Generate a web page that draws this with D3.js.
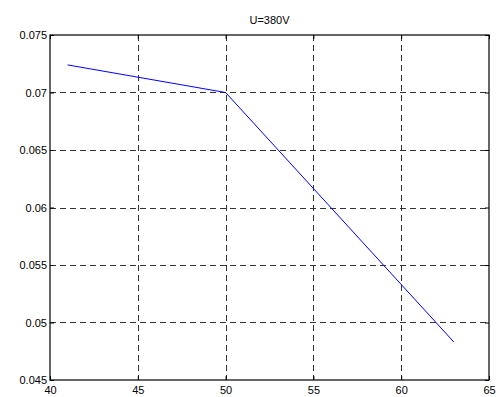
<!DOCTYPE html>
<html lang="en">
<head>
    <meta charset="UTF-8">
    <title>U=380V</title>
    <script src="https://d3js.org/d3.v7.min.js"></script>
    <style>
        body { margin: 0; background: #fff; }
        text { font-family: "Liberation Sans", Arial, sans-serif; }
    </style>
</head>
<body>
<script>
    // 曲线数据
    var xValues = [41, 50, 63];
    var yValues = [0.0724, 0.070, 0.0483];
    var xTicks = [40, 45, 50, 55, 60, 65];
    var yTicks = [0.045, 0.05, 0.055, 0.06, 0.065, 0.07, 0.075];
    var title = 'U=380V';

    var width = 496, height = 397;
    var margin = {top: 35, right: 7, bottom: 17, left: 50};
    var w = width - margin.left - margin.right;
    var h = height - margin.top - margin.bottom;

    var svg = d3.select('body').append('svg').attr('width', width).attr('height', height);
    var g = svg.append('g').attr('transform', 'translate(' + margin.left + ',' + margin.top + ')');

    var x = d3.scaleLinear().domain([40, 65]).range([0, w]);
    var y = d3.scaleLinear().domain([0.045, 0.075]).range([h, 0]);

    // 网格线
    g.append('g').selectAll('line').data(xTicks.slice(1, -1)).enter().append('line')
        .attr('x1', d => Math.round(x(d)) + 0.5).attr('x2', d => Math.round(x(d)) + 0.5)
        .attr('y1', 0).attr('y2', h)
        .attr('stroke', '#333').attr('stroke-dasharray', '6,4');
    g.append('g').selectAll('line').data(yTicks.slice(1, -1)).enter().append('line')
        .attr('y1', d => Math.round(y(d)) + 0.5).attr('y2', d => Math.round(y(d)) + 0.5)
        .attr('x1', 0).attr('x2', w)
        .attr('stroke', '#333').attr('stroke-dasharray', '6,4');

    // 坐标轴
    var xAxis = g.append('g').attr('transform', 'translate(0,' + h + ')')
        .call(d3.axisBottom(x).tickValues(xTicks).tickSizeInner(-4).tickSizeOuter(0).tickPadding(6));
    var yAxis = g.append('g')
        .call(d3.axisLeft(y).tickValues(yTicks).tickSizeInner(-4).tickSizeOuter(0).tickPadding(3)
            .tickFormat(d => String(+d.toFixed(3))));
    g.append('g').attr('transform', 'translate(0,0)')
        .call(d3.axisTop(x).tickValues(xTicks).tickSizeInner(-4).tickSizeOuter(0).tickFormat(''));
    g.append('g').attr('transform', 'translate(' + w + ',0)')
        .call(d3.axisRight(y).tickValues(yTicks).tickSizeInner(-4).tickSizeOuter(0).tickFormat(''));
    svg.selectAll('.domain').remove();
    svg.selectAll('.tick line').attr('stroke', '#000');
    svg.selectAll('.tick text').attr('font-size', '11px').attr('fill', '#000')
        .attr('font-family', '"Liberation Sans", Arial, sans-serif');
    xAxis.selectAll('.tick text').attr('dy', '0.71em');

    // 边框
    g.append('rect').attr('x', 0).attr('y', 0).attr('width', w).attr('height', h)
        .attr('fill', 'none').attr('stroke', '#000').attr('stroke-width', 1.2);

    // 曲线
    var line = d3.line().x((d, i) => x(xValues[i])).y(d => y(d));
    g.append('path').datum(yValues).attr('d', line)
        .attr('fill', 'none').attr('stroke', '#0000ff').attr('stroke-width', 1);

    // 标题
    svg.append('text').attr('x', margin.left + w / 2).attr('y', 24)
        .attr('text-anchor', 'middle').attr('font-size', '11px').text(title);
</script>
</body>
</html>
